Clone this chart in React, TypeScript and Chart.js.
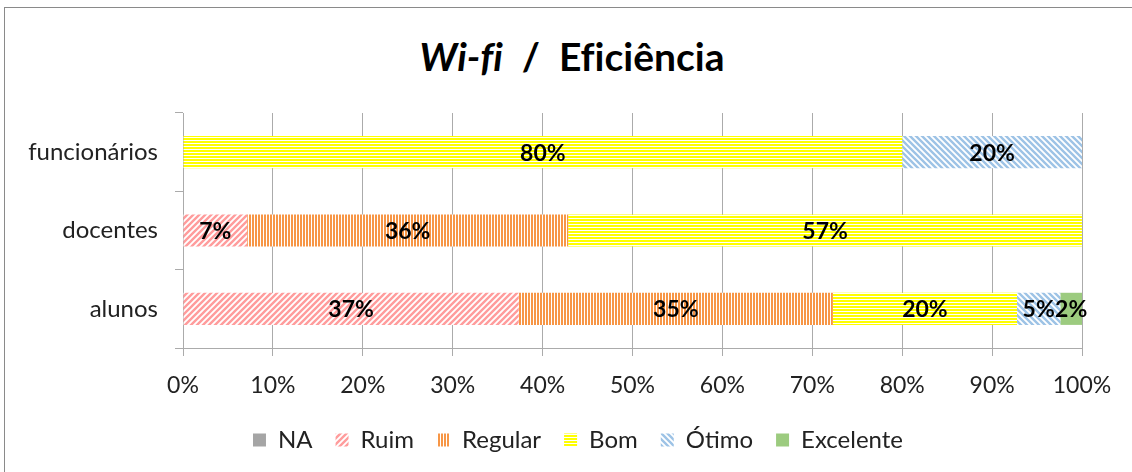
import React, { useEffect, useRef } from 'react';
import { Chart, registerables } from 'chart.js';

Chart.register(...registerables);

const categories = ['funcionários', 'docentes', 'alunos'];
const seriesNames = ['NA', 'Ruim', 'Regular', 'Bom', 'Ótimo', 'Excelente'];
const naValues = [0, 0, 0];
const ruimValues = [0, 7.14, 37.35];
const regularValues = [0, 35.71, 34.94];
const bomValues = [80, 57.14, 20.48];
const otimoValues = [20, 0, 4.82];
const excelenteValues = [0, 0, 2.41];
const xTickStep = 10;

const FONT = 'Lato, "Open Sans", sans-serif';

function makePattern(kind: string, color: string): CanvasPattern | string {
  const c = document.createElement('canvas');
  const ctx = c.getContext('2d');
  if (!ctx) return color;
  if (kind === 'diagUp' || kind === 'diagDown') {
    const s = 6;
    c.width = s;
    c.height = s;
    ctx.fillStyle = '#ffffff';
    ctx.fillRect(0, 0, s, s);
    ctx.strokeStyle = color;
    ctx.lineWidth = 2.4;
    ctx.beginPath();
    if (kind === 'diagUp') {
      for (let k = -1; k <= 1; k++) {
        ctx.moveTo(k * s - 1, s + 1);
        ctx.lineTo(k * s + s + 1, -1);
      }
    } else {
      for (let k = -1; k <= 1; k++) {
        ctx.moveTo(k * s - 1, -1);
        ctx.lineTo(k * s + s + 1, s + 1);
      }
    }
    ctx.stroke();
  } else if (kind === 'vert') {
    c.width = 3;
    c.height = 3;
    ctx.fillStyle = '#ffffff';
    ctx.fillRect(0, 0, 3, 3);
    ctx.fillStyle = color;
    ctx.fillRect(0, 0, 2, 3);
  } else if (kind === 'horiz') {
    c.width = 3;
    c.height = 3;
    ctx.fillStyle = '#ffffff';
    ctx.fillRect(0, 0, 3, 3);
    ctx.fillStyle = color;
    ctx.fillRect(0, 0, 3, 2);
  } else {
    return color;
  }
  const p = ctx.createPattern(c, 'repeat');
  return p || color;
}

const dataLabelPlugin = {
  id: 'dataLabels',
  afterDatasetsDraw(chart: any) {
    const ctx = chart.ctx;
    ctx.save();
    ctx.font = `bold 23px ${FONT}`;
    ctx.fillStyle = '#000000';
    ctx.textAlign = 'center';
    ctx.textBaseline = 'middle';
    chart.data.datasets.forEach((ds: any, di: number) => {
      const meta = chart.getDatasetMeta(di);
      meta.data.forEach((el: any, i: number) => {
        const v = ds.data[i];
        if (!v || v <= 0) return;
        const cx = (el.x + el.base) / 2;
        ctx.fillText(`${Math.round(v)}%`, cx, el.y + 1);
      });
    });
    ctx.restore();
  },
};

const legendShiftPlugin = {
  id: 'legendShift',
  afterLayout(chart: any) {
    const lg = chart.legend;
    if (lg) {
      lg.left += 37;
      lg.right += 37;
    }
  },
};

export default function App() {
  const canvasRef = useRef<HTMLCanvasElement | null>(null);

  useEffect(() => {
    if (!canvasRef.current) return;
    const fills = [
      '#a5a5a5',
      makePattern('diagUp', '#ff9c9c'),
      makePattern('vert', '#f79646'),
      makePattern('horiz', '#ffff00'),
      makePattern('diagDown', '#9dc3e6'),
      '#9ccb7f',
    ];
    const values = [naValues, ruimValues, regularValues, bomValues, otimoValues, excelenteValues];
    const chart = new Chart(canvasRef.current, {
      type: 'bar',
      data: {
        labels: categories,
        datasets: seriesNames.map((name, i) => ({
          label: name,
          data: values[i],
          backgroundColor: fills[i] as any,
          borderWidth: 0,
          barPercentage: 0.41,
          categoryPercentage: 1,
        })),
      },
      options: {
        indexAxis: 'y',
        responsive: false,
        animation: false,
        layout: { padding: { top: 113, right: 50, bottom: 10, left: 0 } },
        scales: {
          x: {
            stacked: true,
            min: 0,
            max: 100,
            afterFit(scale: any) {
              scale.height = 57;
            },
            ticks: {
              stepSize: xTickStep,
              callback: (v: any) => `${v}%`,
              font: { family: FONT, size: 23 },
              color: '#222222',
              padding: 16,
              maxRotation: 0,
            },
            grid: {
              color: '#ababab',
              lineWidth: 1,
              tickLength: 8,
              tickColor: '#ababab',
            },
            border: { color: '#ababab', width: 1 },
          },
          y: {
            stacked: true,
            afterFit(scale: any) {
              scale.width = 183;
            },
            ticks: {
              font: { family: FONT, size: 24 },
              color: '#222222',
              padding: 17,
            },
            grid: {
              drawOnChartArea: false,
              tickLength: 8,
              color: '#ababab',
              tickColor: '#ababab',
              offset: true,
            },
            border: { color: '#ababab', width: 1 },
          },
        },
        plugins: {
          title: { display: false },
          tooltip: { enabled: false },
          legend: {
            position: 'bottom',
            labels: {
              font: { family: FONT, size: 24 },
              color: '#222222',
              boxWidth: 13,
              boxHeight: 13,
              padding: 23,
            },
          },
        },
      },
      plugins: [dataLabelPlugin, legendShiftPlugin],
    } as any);
    return () => chart.destroy();
  }, []);

  return (
    <div
      style={{
        position: 'fixed',
        left: 0,
        top: 0,
        width: 1132,
        height: 472,
        background: '#ffffff',
        overflow: 'hidden',
      }}
    >
      <div
        style={{
          position: 'absolute',
          left: 4,
          top: 7,
          width: 1160,
          height: 500,
          border: '1px solid #8a8a8a',
          boxSizing: 'border-box',
        }}
      />
      <div
        style={{
          position: 'absolute',
          left: 6,
          top: 33,
          width: 1132,
          textAlign: 'center',
          fontFamily: FONT,
          fontWeight: 'bold',
          fontSize: 39,
          lineHeight: '46px',
          color: '#000000',
          whiteSpace: 'pre',
          fontVariantLigatures: 'none',
        }}
      >
        <span style={{ fontStyle: 'italic' }}>Wi-fi</span>
        <span>{'  /  Eficiência'}</span>
      </div>
      <canvas
        ref={canvasRef}
        width={1132}
        height={472}
        style={{ position: 'absolute', left: 0, top: 0, width: 1132, height: 472 }}
      />
    </div>
  );
}
